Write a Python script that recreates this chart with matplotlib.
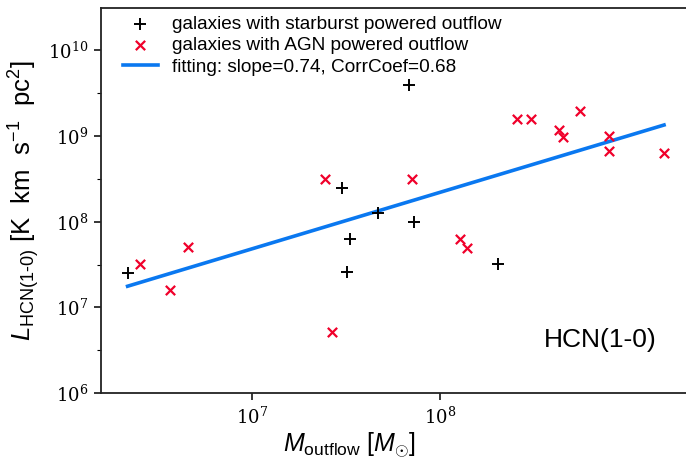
import matplotlib
matplotlib.use("Agg")
import matplotlib.pyplot as plt
from matplotlib.ticker import FixedLocator, FuncFormatter, NullLocator
import numpy as np

# ── fonts ────────────────────────────────────────────────────────────
plt.rcParams["font.family"] = ["Liberation Sans", "DejaVu Sans"]
plt.rcParams["mathtext.fontset"] = "custom"
plt.rcParams["mathtext.rm"] = "Liberation Sans"
plt.rcParams["mathtext.it"] = "Liberation Sans:italic"
plt.rcParams["mathtext.bf"] = "Liberation Sans:bold"

# ── data ─────────────────────────────────────────────────────────────
sb_mass = [2.17e6, 6.86e7, 3.02e7, 4.65e7, 7.26e7, 3.33e7, 3.18e7, 2.03e8]
sb_lhcn = [2.49e7, 3.91e9, 2.50e8, 1.27e8, 9.96e7, 6.30e7, 2.56e7, 3.19e7]

agn_mass = [2.53e6, 4.56e6, 3.63e6, 2.45e7, 7.10e7, 1.28e8, 1.39e8, 2.65e7,
            2.56e8, 3.06e8, 5.55e8, 4.29e8, 4.54e8, 7.94e8, 7.94e8, 1.56e9]
agn_lhcn = [3.17e7, 5.00e7, 1.59e7, 3.19e8, 3.19e8, 6.25e7, 4.94e7, 5.10e6,
            1.57e9, 1.57e9, 1.98e9, 1.18e9, 9.87e8, 9.93e8, 6.76e8, 6.30e8]

# fitted line in log-log space, as drawn
fit_slope = 0.659
fit_icpt = 3.071
fit_label = "fitting: slope=0.74, CorrCoef=0.68"

x_ticks = [1e7, 1e8]
y_ticks = [1e6, 1e7, 1e8, 1e9, 1e10]

# ── figure ───────────────────────────────────────────────────────────
fig = plt.figure(figsize=(6.86, 4.61), dpi=100)
ax = fig.add_axes([0.147, 0.1475, 0.856, 0.836])

ax.scatter(sb_mass, sb_lhcn, marker="+", s=75, c="black", linewidths=1.4,
           label="galaxies with starburst powered outflow", zorder=3)
ax.scatter(agn_mass, agn_lhcn, marker="x", s=45, c="#f0002a", linewidths=1.6,
           label="galaxies with AGN powered outflow", zorder=3)

all_mass = np.log10(sb_mass + agn_mass)
fx = np.array([all_mass.min(), all_mass.max()])
fy = fit_slope * fx + fit_icpt
ax.plot(10**fx, 10**fy, color="#0a78f0", lw=2.6, label=fit_label, zorder=2)

ax.set_xscale("log")
ax.set_yscale("log")
ax.set_xlim(10**6.194, 10**9.321)
ax.set_ylim(1e6, 10**10.5)

# ── ticks ────────────────────────────────────────────────────────────
tick_fmt = FuncFormatter(lambda v, p: r"$\mathdefault{10^{%d}}$" % round(np.log10(v)))
ax.xaxis.set_major_locator(FixedLocator(x_ticks))
ax.xaxis.set_minor_locator(NullLocator())
ax.yaxis.set_major_locator(FixedLocator(y_ticks))
ax.yaxis.set_minor_locator(FixedLocator([10**(k + 0.5) for k in range(6, 10)]))
ax.xaxis.set_major_formatter(tick_fmt)
ax.yaxis.set_major_formatter(tick_fmt)
for lab in ax.get_xticklabels() + ax.get_yticklabels():
    lab.set_family("DejaVu Serif")
ax.tick_params(which="major", direction="out", length=5, width=1.1,
               labelsize=13, pad=4)
ax.tick_params(which="minor", direction="out", length=3, width=0.8)
ax.tick_params(axis="x", which="major", pad=5)

for sp in ax.spines.values():
    sp.set_linewidth(1.3)
    sp.set_color("#222222")

# ── labels ───────────────────────────────────────────────────────────
ax.set_xlabel(r"$M_{\mathrm{outflow}}$ $[M_{\odot}]$", fontsize=18)
ax.xaxis.set_label_coords(0.423, -0.098)
ax.set_ylabel(r"$L_{\mathrm{HCN(1\text{-}0)}}$ [K  km  s$^{\mathrm{-1}}$  pc$^{2}$]",
              fontsize=18.5, labelpad=4)

ax.text(0.947, 0.138, "HCN(1-0)", transform=ax.transAxes, ha="right",
        va="center", fontsize=19)

ax.legend(loc="upper left", frameon=False, fontsize=13.7, handlelength=1.85,
          handletextpad=0.74, labelspacing=0.22, borderaxespad=0, borderpad=0,
          bbox_to_anchor=(0.037, 0.98))

fig.savefig("out.png", dpi=100)
